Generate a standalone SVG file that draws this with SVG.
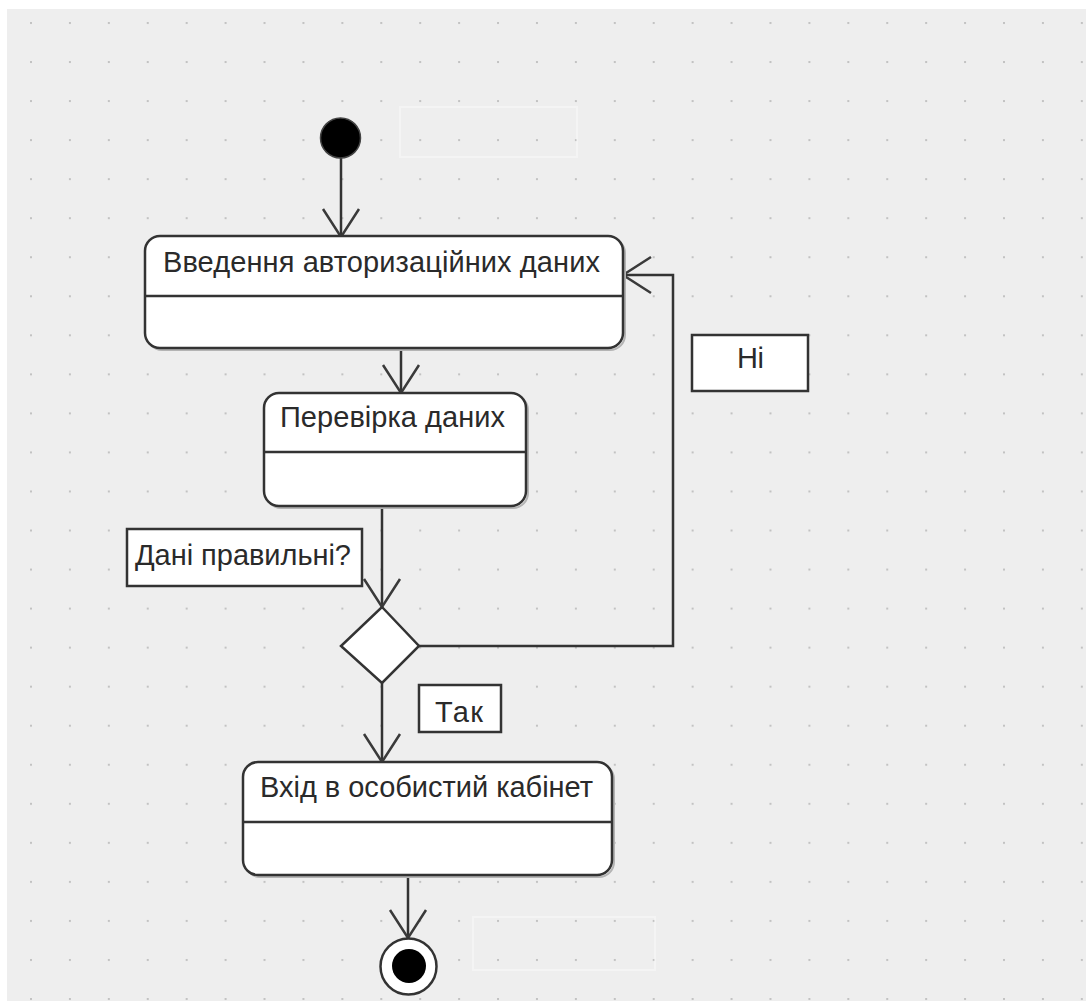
<svg xmlns="http://www.w3.org/2000/svg" width="1086" height="1001" viewBox="0 0 1086 1001">
  <defs>
    <pattern id="dots" patternUnits="userSpaceOnUse" x="30" y="22" width="38.92" height="39.04">
      <rect x="0" y="0" width="2" height="2" fill="#c2c2c2"/>
    </pattern>
    <marker id="open" viewBox="-32 -22 36 44" markerWidth="36" markerHeight="44" refX="0" refY="0" orient="auto" markerUnits="userSpaceOnUse" overflow="visible">
      <path d="M-28,-18 L0,0 L-28,18" fill="none" stroke="#3a3a3a" stroke-width="2.5"/>
    </marker>
    <style>
      .box { fill: #ffffff; stroke: #333333; stroke-width: 2.5; }
      .shadow { fill: none; stroke: #b4b4b4; stroke-width: 2; }
      .div { stroke: #333333; stroke-width: 2.5; }
      .lbl { fill: #ffffff; stroke: #333333; stroke-width: 2.5; }
      .conn { fill: none; stroke: #333333; stroke-width: 2.5; }
      .t { font-family: "Liberation Sans", Arial, sans-serif; font-size: 29px; fill: #2a2a2a; }
      .ghost { fill: none; stroke: #ffffff; stroke-width: 2; opacity: 0.35; }
    </style>
  </defs>

  <rect x="0" y="0" width="1086" height="1001" fill="#ffffff"/>
  <rect x="7" y="9" width="1079" height="992" fill="#eeeeee"/>
  <rect x="7" y="9" width="1079" height="992" fill="url(#dots)"/>

  <g id="ghosts">
    <rect class="ghost" x="400" y="107" width="177" height="50"/>
    <rect class="ghost" x="473" y="917" width="182" height="53"/>
  </g>

  <g id="connectors">
    <line class="conn" x1="341" y1="158" x2="341" y2="237" marker-end="url(#open)"/>
    <line class="conn" x1="401" y1="348" x2="401" y2="393" marker-end="url(#open)"/>
    <line class="conn" x1="382" y1="506" x2="382" y2="607" marker-end="url(#open)"/>
    <polyline class="conn" points="419,646 673,646 673,275 623,275" marker-end="url(#open)"/>
    <line class="conn" x1="382" y1="683" x2="382" y2="762" marker-end="url(#open)"/>
    <line class="conn" x1="408" y1="875" x2="408" y2="938" marker-end="url(#open)"/>
  </g>

  <g id="start">
    <circle cx="340.5" cy="138" r="20" fill="#000000" stroke="#444444" stroke-width="1.5"/>
  </g>

  <g id="action-1">
    <rect class="shadow" x="147" y="238" width="478" height="112" rx="15"/>
    <rect class="box" x="145" y="236" width="478" height="112" rx="15"/>
    <line class="div" x1="145" y1="296" x2="623" y2="296"/>
    <text class="t" x="163" y="272" textLength="437">Введення авторизаційних даних</text>
  </g>

  <g id="action-2">
    <rect class="shadow" x="266" y="395" width="262" height="113" rx="15"/>
    <rect class="box" x="264" y="393" width="262" height="113" rx="15"/>
    <line class="div" x1="264" y1="452" x2="526" y2="452"/>
    <text class="t" x="280" y="427" textLength="225">Перевірка даних</text>
  </g>

  <g id="decision">
    <polygon points="382,607 419,646 382,683 341,646" fill="#ffffff" stroke="#333333" stroke-width="2.5"/>
  </g>

  <g id="label-question">
    <rect class="lbl" x="127" y="529" width="235" height="57"/>
    <text class="t" x="135" y="565" textLength="216">Дані правильні?</text>
  </g>

  <g id="label-no">
    <rect class="lbl" x="692" y="335" width="116" height="56"/>
    <text class="t" x="737" y="368" textLength="27">Ні</text>
  </g>

  <g id="label-yes">
    <rect class="lbl" x="419" y="685" width="82" height="47"/>
    <text class="t" x="435" y="722" textLength="48">Так</text>
  </g>

  <g id="action-3">
    <rect class="shadow" x="245" y="764" width="369" height="113" rx="15"/>
    <rect class="box" x="243" y="762" width="369" height="113" rx="15"/>
    <line class="div" x1="243" y1="822" x2="612" y2="822"/>
    <text class="t" x="260" y="797" textLength="333">Вхід в особистий кабінет</text>
  </g>

  <g id="end">
    <circle cx="408.5" cy="966.5" r="28" fill="#ffffff" stroke="#333333" stroke-width="2.5"/>
    <circle cx="409" cy="966" r="17" fill="#000000"/>
  </g>
</svg>
